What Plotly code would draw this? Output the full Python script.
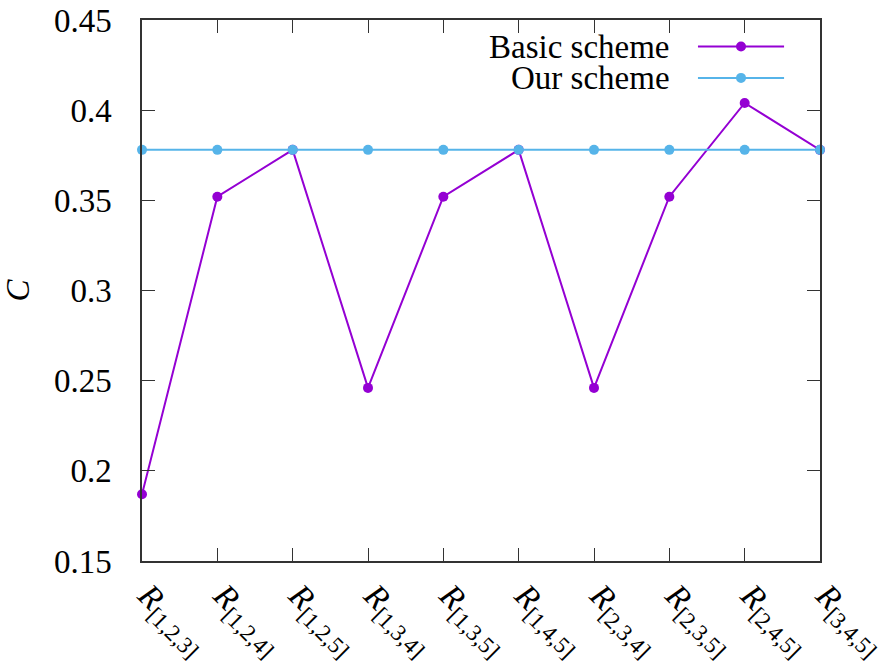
import plotly.graph_objects as go

categories = ["[1,2,3]", "[1,2,4]", "[1,2,5]", "[1,3,4]", "[1,3,5]",
              "[1,4,5]", "[2,3,4]", "[2,3,5]", "[2,4,5]", "[3,4,5]"]
basic_scheme = [0.187, 0.352, 0.378, 0.246, 0.352, 0.378, 0.246, 0.352, 0.404, 0.378]
our_scheme = [0.378, 0.378, 0.378, 0.378, 0.378, 0.378, 0.378, 0.378, 0.378, 0.378]
y_ticks = [0.15, 0.2, 0.25, 0.3, 0.35, 0.4, 0.45]
series_names = ["Basic scheme", "Our scheme"]

PURPLE = "#9400d3"
BLUE = "#56b4e9"
FONT = "Times New Roman, Liberation Serif, DejaVu Serif, serif"
FS = 33

x = list(range(len(categories)))
tick_text = [f"<i>R</i><sub><span style='font-size:23px'>{c}</span></sub>" for c in categories]

fig = go.Figure()
fig.add_trace(go.Scatter(x=x, y=basic_scheme, mode="lines+markers", name=series_names[0],
                         line=dict(color=PURPLE, width=2), marker=dict(color=PURPLE, size=10),
                         cliponaxis=False, showlegend=False))
fig.add_trace(go.Scatter(x=x, y=our_scheme, mode="lines+markers", name=series_names[1],
                         line=dict(color=BLUE, width=2), marker=dict(color=BLUE, size=10),
                         cliponaxis=False, showlegend=False))

axis_common = dict(showline=True, linecolor="#333333", linewidth=1.5, mirror="ticks",
                   ticks="inside", ticklen=13, tickwidth=1.2, tickcolor="#333333",
                   showgrid=False, zeroline=False, automargin=False)

fig.update_xaxes(range=[0, 9], tickvals=x, ticktext=tick_text, tickangle=45,
                 tickfont=dict(family=FONT, size=FS, color="black"),
                 ticklabelstandoff=0, ticklabelshift=6, ticklabeloverflow="allow",
                 **axis_common)
fig.update_yaxes(range=[0.15, 0.45], tickvals=y_ticks, ticktext=[f"{v:g}" for v in y_ticks],
                 tickfont=dict(family=FONT, size=FS, color="black"),
                 ticklabelstandoff=22,
                 title=dict(text="<i>C</i>", font=dict(family=FONT, size=FS, color="black"), standoff=22),
                 **axis_common)

# gnuplot-style legend: text on the left, sample on the right
legend_rows = [0.951, 0.893]
for name, color, yy in zip(series_names, [PURPLE, BLUE], legend_rows):
    fig.add_annotation(x=0.781, y=yy, xref="paper", yref="paper", text=name, showarrow=False,
                       xanchor="right", yanchor="middle",
                       font=dict(family=FONT, size=FS, color="black"))
    fig.add_shape(type="line", xref="paper", yref="paper", x0=0.820, x1=0.947, y0=yy, y1=yy,
                  line=dict(color=color, width=2))
    fig.add_shape(type="circle", xref="paper", yref="paper", xsizemode="pixel", ysizemode="pixel",
                  xanchor=0.8835, yanchor=yy, x0=-5, x1=5, y0=-5, y1=5,
                  fillcolor=color, line=dict(color=color, width=0))

fig.update_layout(width=895, height=667, margin=dict(l=142, r=75, t=20, b=106),
                  plot_bgcolor="white", paper_bgcolor="white",
                  font=dict(family=FONT, size=FS, color="black"))

fig.write_html("out.html", config={"displayModeBar": False},
               post_script="document.body.style.margin='0';")
